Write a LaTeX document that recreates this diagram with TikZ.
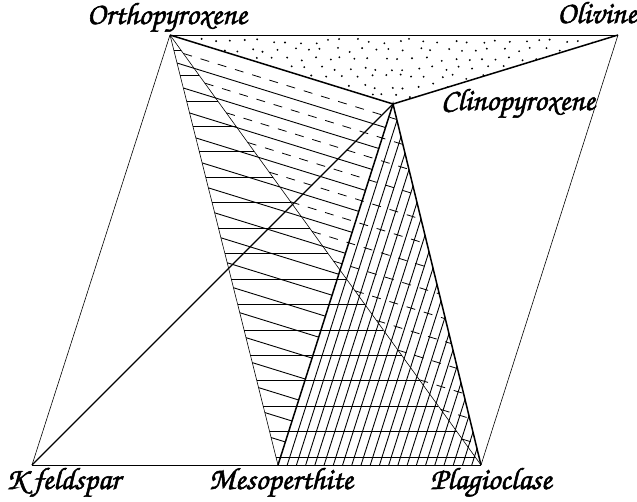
\documentclass[tikz,border=0pt]{standalone}
\usepackage[T1,TU]{fontenc}
\usetikzlibrary{calc}
\newcommand\chanfont{\fontencoding{T1}\fontfamily{pzc}\fontseries{mb}\fontshape{it}\fontsize{31}{33}\selectfont}
\newcommand\heavy[1]{\special{pdf:literal direct 2 Tr 0.55 w}#1\special{pdf:literal direct 0 Tr}}
\begin{document}
\begin{tikzpicture}[x=1pt,y=-1pt,
  edge/.style={line width=0.6pt},
  bold/.style={line width=1.5pt},
  hatch/.style={line width=0.9pt},
  hatchh/.style={line width=0.65pt},
  dashhatch/.style={line width=0.8pt, dash pattern=on 9pt off 9pt},
  lab/.style={font=\chanfont, inner sep=0pt, anchor=base}]
\useasboundingbox (0,0) rectangle (637,501);
\coordinate (O) at (170,35);
\coordinate (Ol) at (618,35);
\coordinate (C) at (393,104);
\coordinate (K) at (32,465);
\coordinate (M) at (278,465);
\coordinate (P) at (481,465);
% stippling
\begin{scope}
\clip (O) -- (Ol) -- (C) -- cycle;
\pgfmathsetseed{12345}
\foreach \j in {0,...,7} {
  \foreach \i in {0,...,32} {
    \pgfmathsetmacro\xx{174+14*\i+7*mod(\j,2)+3*rand}
    \pgfmathsetmacro\yy{41+9*\j+2.5*rand}
    \fill (\xx,\yy) circle (1.05pt);
  }
}
\end{scope}
% solid lines parallel to O-C in triangle O-C-M
\foreach \k in {1,...,16} {
  \pgfmathsetmacro\t{(2.7+22*\k)/378.9}
  \draw[hatch] ($(O)!\t!(M)$) -- ($(C)!\t!(M)$);
}
% dashed lines parallel to O-C in triangle O-C-P
\foreach \k in {0,...,13} {
  \pgfmathsetmacro\s{(13.7+22*\k)/318.9}
  \draw[dashhatch] ($(O)!\s!(P)$) -- ($(C)!\s!(P)$);
}
% horizontal lines in triangle O-M-P
\foreach \k in {0,...,16} {
  \pgfmathsetmacro\t{(15+25.44*\k)/430}
  \draw[hatchh] ($(O)!\t!(M)$) -- ($(O)!\t!(P)$);
}
% lines parallel to C-M in triangle C-M-P
\foreach \k in {1,...,21} {
  \pgfmathsetmacro\u{\k/22}
  \draw[hatch] ($(M)!\u!(P)$) -- ($(C)!\u!(P)$);
}
% edges
\draw[edge] (O) -- (Ol);
\draw[edge] (O) -- (K);
\draw[edge] (Ol) -- (P);
\draw[edge] (K) -- (P);
\draw[edge] (O) -- (M);
\draw[edge] (O) -- (P);
\draw[line width=1.1pt] (K) -- (C);
\draw[bold] (O) -- (C) -- (Ol);
\draw[bold] (M) -- (C) -- (P);
% labels
\node[lab] (lopx) at (167,24) {\heavy{Orthopyroxene}};
\node[lab] (lol) at (597,23) {\heavy{Olivine}};
\node[lab] (lcpx) at (518,110) {\heavy{Clinopyroxene}};
\node[lab] (lkf) at (63,489) {\heavy{K feldspar}};
\node[lab] (lmes) at (281,489) {\heavy{Mesoperthite}};
\node[lab] (lpl) at (491,489) {\heavy{Plagioclase}};
\end{tikzpicture}
\end{document}
